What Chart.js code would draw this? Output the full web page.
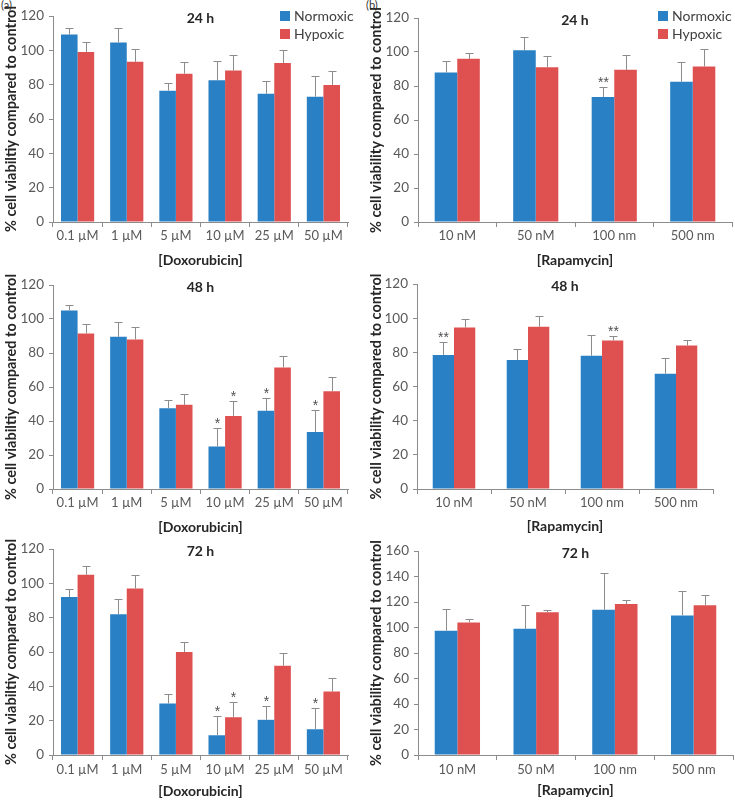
<!DOCTYPE html>
<html><head><meta charset="utf-8">
<script src="https://cdn.jsdelivr.net/npm/chart.js@4.4.0/dist/chart.umd.min.js"></script>
<style>
html,body{margin:0;padding:0;background:#fff}
body{width:735px;height:800px;position:relative;overflow:hidden;font-family:Lato,sans-serif}
canvas{position:absolute}
.lab{position:absolute;font:11px Lato,sans-serif;color:#333}
</style></head><body>
<div class="lab" style="left:1px;top:-2px">(a)</div>
<div class="lab" style="left:366px;top:-2px">(b)</div>
<canvas id="a24"></canvas><canvas id="b24"></canvas>
<canvas id="a48"></canvas><canvas id="b48"></canvas>
<canvas id="a72"></canvas><canvas id="b72"></canvas>
<script>
// ---------- DATA ----------
const doxCategories = ['0.1 µM', '1 µM', '5 µM', '10 µM', '25 µM', '50 µM'];
const rapaCategories = ['10 nM', '50 nM', '100 nm', '500 nm'];
const seriesNames = ['Normoxic', 'Hypoxic'];
const timeLabels = ['24 h', '48 h', '72 h'];

const dox24Normoxic    = [109.2, 104.6, 76.5, 82.6, 74.7, 73.0];
const dox24NormoxicErr = [4.0, 8.2, 4.7, 11.0, 7.2, 12.2];
const dox24Hypoxic     = [99.1, 93.3, 86.4, 88.2, 92.6, 79.8];
const dox24HypoxicErr  = [5.7, 7.4, 6.9, 9.0, 7.4, 8.4];

const dox48Normoxic    = [105.0, 89.5, 47.5, 25.0, 46.0, 33.5];
const dox48NormoxicErr = [3.5, 8.5, 5.0, 11.0, 7.5, 13.0];
const dox48Hypoxic     = [91.5, 88.0, 49.5, 43.0, 71.5, 57.5];
const dox48HypoxicErr  = [5.5, 7.5, 6.5, 9.0, 7.0, 8.5];

const dox72Normoxic    = [92.0, 82.0, 30.0, 11.5, 20.5, 15.0];
const dox72NormoxicErr = [4.5, 9.0, 5.5, 11.0, 8.0, 12.5];
const dox72Hypoxic     = [105.0, 97.0, 60.0, 22.0, 52.0, 37.0];
const dox72HypoxicErr  = [5.0, 8.0, 6.0, 9.0, 7.5, 8.0];

const rapa24Normoxic    = [88.0, 101.0, 73.5, 82.5];
const rapa24NormoxicErr = [6.5, 8.0, 6.0, 11.5];
const rapa24Hypoxic     = [96.0, 91.0, 89.5, 91.5];
const rapa24HypoxicErr  = [3.5, 6.5, 8.5, 10.0];

const rapa48Normoxic    = [78.5, 75.5, 78.0, 67.5];
const rapa48NormoxicErr = [7.5, 6.5, 12.0, 9.0];
const rapa48Hypoxic     = [94.5, 95.0, 87.0, 84.0];
const rapa48HypoxicErr  = [5.0, 6.5, 2.5, 3.5];

const rapa72Normoxic    = [97.5, 99.0, 114.0, 109.5];
const rapa72NormoxicErr = [17.0, 19.0, 29.0, 19.5];
const rapa72Hypoxic     = [104.0, 112.0, 118.5, 117.5];
const rapa72HypoxicErr  = [3.0, 2.0, 3.0, 8.0];

// significance marks
const dox48StarsN  = ['', '', '', '*', '*', '*'];
const dox48StarsH  = ['', '', '', '*', '', ''];
const dox72StarsN  = ['', '', '', '*', '*', '*'];
const dox72StarsH  = ['', '', '', '*', '', ''];
const rapa24StarsN = ['', '', '**', ''];
const rapa24StarsH = ['', '', '', ''];
const rapa48StarsN = ['**', '', '', ''];
const rapa48StarsH = ['', '', '**', ''];
const noStars6 = ['', '', '', '', '', ''];
const noStars4 = ['', '', '', ''];

const yTitleA = '% cell viabiltiy compared to control';
const yTitleB = '% cell viability compared to control';
const xTitleA = '[Doxorubicin]';
const xTitleB = '[Rapamycin]';

// ---------- STYLE ----------
const BLUE = '#2a80c4', RED = '#df5050', AXIS = '#8c8c8c', TICK = '#595959', DARK = '#262626';
const FONT = 'Lato';

const overlay = {
  id: 'overlay',
  afterDatasetsDraw(chart, args, o) {
    const ctx = chart.ctx, ys = chart.scales.y, area = chart.chartArea;
    ctx.save();
    o.errs.forEach((errArr, di) => {
      const meta = chart.getDatasetMeta(di);
      meta.data.forEach((bar, i) => {
        const v = chart.data.datasets[di].data[i];
        const top = Math.round(ys.getPixelForValue(v + errArr[i])) + 0.5;
        const x = Math.round(bar.x) + 0.5;
        ctx.strokeStyle = AXIS; ctx.lineWidth = 1;
        ctx.beginPath();
        ctx.moveTo(x, bar.y); ctx.lineTo(x, top);
        ctx.moveTo(x - 4, top); ctx.lineTo(x + 4, top);
        ctx.stroke();
        const s = o.stars[di][i];
        if (s) {
          ctx.fillStyle = '#505050'; ctx.font = '14px "Liberation Sans"';
          ctx.textAlign = 'center'; ctx.textBaseline = 'alphabetic';
          ctx.fillText(s, x, top - 1);
        }
      });
    });
    ctx.fillStyle = DARK; ctx.font = 'bold 14px ' + FONT;
    ctx.textAlign = 'center'; ctx.textBaseline = 'middle';
    ctx.fillText(o.title, (area.left + area.right) / 2, area.top + 2);
    if (o.legend) {
      const cols = [BLUE, RED];
      ctx.font = '14px ' + FONT; ctx.textAlign = 'left';
      chart.data.datasets.forEach((d, i) => {
        const yy = o.legend.y + i * 18;
        ctx.fillStyle = cols[i];
        ctx.fillRect(o.legend.x, yy, 10, 10);
        ctx.fillStyle = '#404040';
        ctx.fillText(d.label, o.legend.x + 14, yy + 5);
      });
    }
    ctx.restore();
  }
};

function makePanel(id, p) {
  const c = document.getElementById(id);
  c.width = p.box.w; c.height = p.box.h;
  c.style.left = p.box.left + 'px'; c.style.top = p.box.top + 'px';
  const boxBottom = p.box.top + p.box.h;
  new Chart(c, {
    type: 'bar',
    data: {
      labels: p.labels,
      datasets: [
        { label: seriesNames[0], data: p.n, backgroundColor: BLUE },
        { label: seriesNames[1], data: p.h, backgroundColor: RED }
      ]
    },
    plugins: [overlay],
    options: {
      responsive: false, animation: false, devicePixelRatio: 1,
      categoryPercentage: p.catPct, barPercentage: 1,
      layout: { padding: { left: 0, top: p.plot.t - p.box.top, right: p.box.left + p.box.w - p.plot.r, bottom: 0 } },
      plugins: {
        legend: { display: false }, tooltip: { enabled: false },
        overlay: { errs: [p.ne, p.he], stars: [p.sn, p.sh], title: p.title, legend: p.legend }
      },
      scales: {
        x: {
          grid: { offset: true, drawOnChartArea: false, drawTicks: true, tickLength: 5, color: AXIS },
          border: { color: AXIS },
          ticks: { font: { family: FONT, size: 13 }, color: TICK, maxRotation: 0, minRotation: 0, autoSkip: false,
                   padding: p.tickCenter - p.plot.b - 5 - 7.8 },
          title: { display: true, text: p.xTitle, color: DARK, font: { family: FONT, size: 14, weight: 'bold' },
                   padding: { top: 0, bottom: boxBottom - p.xTitleCenter - 8.4 } },
          afterFit(s) { s.height = boxBottom - p.plot.b; }
        },
        y: {
          min: 0, max: p.yMax,
          ticks: { stepSize: 20, font: { family: FONT, size: 13.5 }, color: TICK, padding: 5 },
          grid: { drawOnChartArea: false, drawTicks: true, tickLength: 4, color: AXIS },
          border: { color: AXIS },
          title: { display: true, text: p.yTitle, color: DARK, font: { family: FONT, size: 14.5, weight: 'bold' },
                   padding: { top: 3, bottom: 0 } },
          afterFit(s) { s.width = p.plot.l - p.box.left; }
        }
      }
    }
  });
}

makePanel('a24', { labels: doxCategories, n: dox24Normoxic, ne: dox24NormoxicErr, h: dox24Hypoxic, he: dox24HypoxicErr,
  sn: noStars6, sh: noStars6, title: timeLabels[0], xTitle: xTitleA, yTitle: yTitleA, yMax: 120, catPct: 0.675,
  box: { left: 0, top: 0, w: 370, h: 272 }, plot: { l: 53, r: 348, t: 16, b: 222 }, tickCenter: 236, xTitleCenter: 260,
  legend: { x: 280, y: 11 } });
makePanel('b24', { labels: rapaCategories, n: rapa24Normoxic, ne: rapa24NormoxicErr, h: rapa24Hypoxic, he: rapa24HypoxicErr,
  sn: rapa24StarsN, sh: rapa24StarsH, title: timeLabels[0], xTitle: xTitleB, yTitle: yTitleB, yMax: 120, catPct: 0.575,
  box: { left: 365, top: 0, w: 370, h: 272 }, plot: { l: 418, r: 732, t: 18, b: 222 }, tickCenter: 236, xTitleCenter: 260,
  legend: { x: 293, y: 11 } });
makePanel('a48', { labels: doxCategories, n: dox48Normoxic, ne: dox48NormoxicErr, h: dox48Hypoxic, he: dox48HypoxicErr,
  sn: dox48StarsN, sh: dox48StarsH, title: timeLabels[1], xTitle: xTitleA, yTitle: yTitleA, yMax: 120, catPct: 0.675,
  box: { left: 0, top: 265, w: 370, h: 275 }, plot: { l: 53, r: 348, t: 285, b: 489 }, tickCenter: 503, xTitleCenter: 527 });
makePanel('b48', { labels: rapaCategories, n: rapa48Normoxic, ne: rapa48NormoxicErr, h: rapa48Hypoxic, he: rapa48HypoxicErr,
  sn: rapa48StarsN, sh: rapa48StarsH, title: timeLabels[1], xTitle: xTitleB, yTitle: yTitleB, yMax: 120, catPct: 0.575,
  box: { left: 365, top: 265, w: 370, h: 275 }, plot: { l: 417, r: 713, t: 284, b: 489 }, tickCenter: 503, xTitleCenter: 526 });
makePanel('a72', { labels: doxCategories, n: dox72Normoxic, ne: dox72NormoxicErr, h: dox72Hypoxic, he: dox72HypoxicErr,
  sn: dox72StarsN, sh: dox72StarsH, title: timeLabels[2], xTitle: xTitleA, yTitle: yTitleA, yMax: 120, catPct: 0.675,
  box: { left: 0, top: 530, w: 370, h: 270 }, plot: { l: 53, r: 348, t: 549, b: 755 }, tickCenter: 770, xTitleCenter: 791 });
makePanel('b72', { labels: rapaCategories, n: rapa72Normoxic, ne: rapa72NormoxicErr, h: rapa72Hypoxic, he: rapa72HypoxicErr,
  sn: noStars4, sh: noStars4, title: timeLabels[2], xTitle: xTitleB, yTitle: yTitleB, yMax: 160, catPct: 0.575,
  box: { left: 365, top: 530, w: 370, h: 270 }, plot: { l: 418, r: 733, t: 551, b: 755 }, tickCenter: 770, xTitleCenter: 790 });
</script>
</body></html>
